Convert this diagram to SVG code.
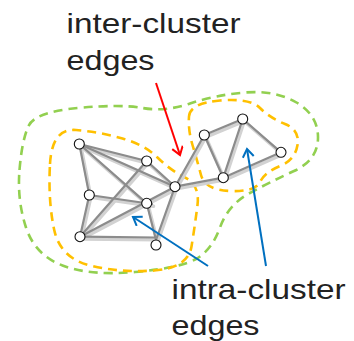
<svg xmlns="http://www.w3.org/2000/svg" width="354" height="341" viewBox="0 0 354 341">
<style>
.txt{font-family:"Liberation Sans",Arial,sans-serif;font-size:28.5px;fill:#222}
.green{fill:none;stroke:#92d050;stroke-width:2.6;stroke-dasharray:9 6;stroke-linecap:butt}
.orange{fill:none;stroke:#ffc000;stroke-width:2.6;stroke-dasharray:9 6}
.sh line{stroke:#d2d2d2;stroke-width:3.5;stroke-linecap:round}
.ed line{stroke:#8c8c8c;stroke-width:2.2;stroke-linecap:round}
.node circle{fill:#fff;stroke:#111;stroke-width:1.1}
.red{stroke:#ff0000;stroke-width:2;fill:none}
.blue{stroke:#0070c0;stroke-width:2;fill:none}
</style>
<defs>
<marker id="hr" markerUnits="userSpaceOnUse" markerWidth="14" markerHeight="14" refX="10" refY="6" orient="auto">
<path d="M2,0.5 L10,6 L2,11.5" fill="none" stroke="#ff0000" stroke-width="2"/>
</marker>
<marker id="hb" markerUnits="userSpaceOnUse" markerWidth="14" markerHeight="14" refX="10" refY="6" orient="auto">
<path d="M2,0.5 L10,6 L2,11.5" fill="none" stroke="#0070c0" stroke-width="2"/>
</marker>
</defs>
<g id="labels">
<text class="txt" x="66.5" y="33" textLength="174" lengthAdjust="spacingAndGlyphs">inter-cluster</text>
<text class="txt" x="66.5" y="70" textLength="88" lengthAdjust="spacingAndGlyphs">edges</text>
<text class="txt" x="171.5" y="299" textLength="174" lengthAdjust="spacingAndGlyphs">intra-cluster</text>
<text class="txt" x="171.5" y="335" textLength="88" lengthAdjust="spacingAndGlyphs">edges</text>
</g>
<g id="clusters">
<path class="green" d="M19.5,170 Q22,140 28.5,126 Q35,112 77.5,108 Q120,104 142.5,108 Q165,112 190,103.5 Q215,95 245,92.5 Q275,90 296.5,102.5 Q318,115 318,137.5 Q318,160 294,171 Q270,182 249,193.5 Q228,205 220,227.5 Q212,250 196,259 Q180,268 135,272 Q90,276 62.5,265.5 Q35,255 26,227.5 Q17,200 19.5,170 Z"/>
<path class="orange" d="M50,164 Q52,128 76,130 Q100,132 122.5,138.5 Q145,145 157.5,157.5 Q170,170 185,177.5 Q200,185 197.5,205 Q195,225 191.5,246.5 Q188,268 154,270.5 Q120,273 90,265.5 Q60,258 54,229 Q48,200 50,164 Z"/>
<path class="orange" d="M189,116.5 Q190,103 220,100.5 Q250,98 260,108 Q270,118 285,124 Q300,130 297.5,145 Q295,160 280,166 Q265,172 260,182 Q255,192 230,191 Q205,190 201,175 Q197,160 192.5,145 Q188,130 189,116.5 Z"/>
</g>
<g id="connectors">
<g class="sh" transform="translate(1.5,2.2)">
<line x1="79.3" y1="144" x2="146.7" y2="161"/>
<line x1="79.3" y1="144" x2="175" y2="186.7"/>
<line x1="79.3" y1="144" x2="146.7" y2="203.3"/>
<line x1="79.3" y1="144" x2="89.3" y2="195"/>
<line x1="146.7" y1="161" x2="175" y2="186.7"/>
<line x1="146.7" y1="161" x2="80" y2="236.7"/>
<line x1="89.3" y1="195" x2="152" y2="204"/>
<line x1="89.3" y1="195" x2="80" y2="236.7"/>
<line x1="80" y1="236.7" x2="175" y2="186.7"/>
<line x1="80" y1="236.7" x2="156" y2="237.5"/>
<line x1="146.7" y1="203.3" x2="156" y2="240"/>
<line x1="175" y1="186.7" x2="156" y2="240"/>
<line x1="175" y1="186.7" x2="204.3" y2="135"/>
<line x1="175" y1="186.7" x2="223.3" y2="177.7"/>
<line x1="204.3" y1="135" x2="242.7" y2="119"/>
<line x1="204.3" y1="135" x2="223.3" y2="177.7"/>
<line x1="242.7" y1="119" x2="223.3" y2="177.7"/>
<line x1="242.7" y1="119" x2="281" y2="152.3"/>
<line x1="223.3" y1="177.7" x2="281" y2="152.3"/>
</g>
<g class="ed">
<line x1="79.3" y1="144" x2="146.7" y2="161"/>
<line x1="79.3" y1="144" x2="175" y2="186.7"/>
<line x1="79.3" y1="144" x2="146.7" y2="203.3"/>
<line x1="79.3" y1="144" x2="89.3" y2="195"/>
<line x1="146.7" y1="161" x2="175" y2="186.7"/>
<line x1="146.7" y1="161" x2="80" y2="236.7"/>
<line x1="89.3" y1="195" x2="152" y2="204"/>
<line x1="89.3" y1="195" x2="80" y2="236.7"/>
<line x1="80" y1="236.7" x2="175" y2="186.7"/>
<line x1="80" y1="236.7" x2="156" y2="237.5"/>
<line x1="146.7" y1="203.3" x2="156" y2="240"/>
<line x1="175" y1="186.7" x2="156" y2="240"/>
<line x1="175" y1="186.7" x2="204.3" y2="135"/>
<line x1="175" y1="186.7" x2="223.3" y2="177.7"/>
<line x1="204.3" y1="135" x2="242.7" y2="119"/>
<line x1="204.3" y1="135" x2="223.3" y2="177.7"/>
<line x1="242.7" y1="119" x2="223.3" y2="177.7"/>
<line x1="242.7" y1="119" x2="281" y2="152.3"/>
<line x1="223.3" y1="177.7" x2="281" y2="152.3"/>
</g>
</g>
<g id="nodes" class="node">
<g id="n1"><circle cx="79.3" cy="144" r="5"/></g>
<g id="n2"><circle cx="146.7" cy="161" r="5"/></g>
<g id="n3"><circle cx="89.3" cy="195" r="5"/></g>
<g id="n4"><circle cx="146.7" cy="203.3" r="5"/></g>
<g id="n5"><circle cx="175" cy="186.7" r="5"/></g>
<g id="n6"><circle cx="80" cy="236.7" r="5"/></g>
<g id="n7"><circle cx="156" cy="245" r="5"/></g>
<g id="n8"><circle cx="204.3" cy="135" r="5"/></g>
<g id="n9"><circle cx="242.7" cy="119" r="5"/></g>
<g id="n10"><circle cx="281" cy="152.3" r="5"/></g>
<g id="n11"><circle cx="223.3" cy="177.7" r="5"/></g>
</g>
<g id="arrows">
<line class="red" x1="156" y1="83" x2="180" y2="155" marker-end="url(#hr)"/>
<line class="blue" x1="208" y1="266" x2="133" y2="217" marker-end="url(#hb)"/>
<line class="blue" x1="266" y1="266" x2="247" y2="149" marker-end="url(#hb)"/>
</g>
</svg>
